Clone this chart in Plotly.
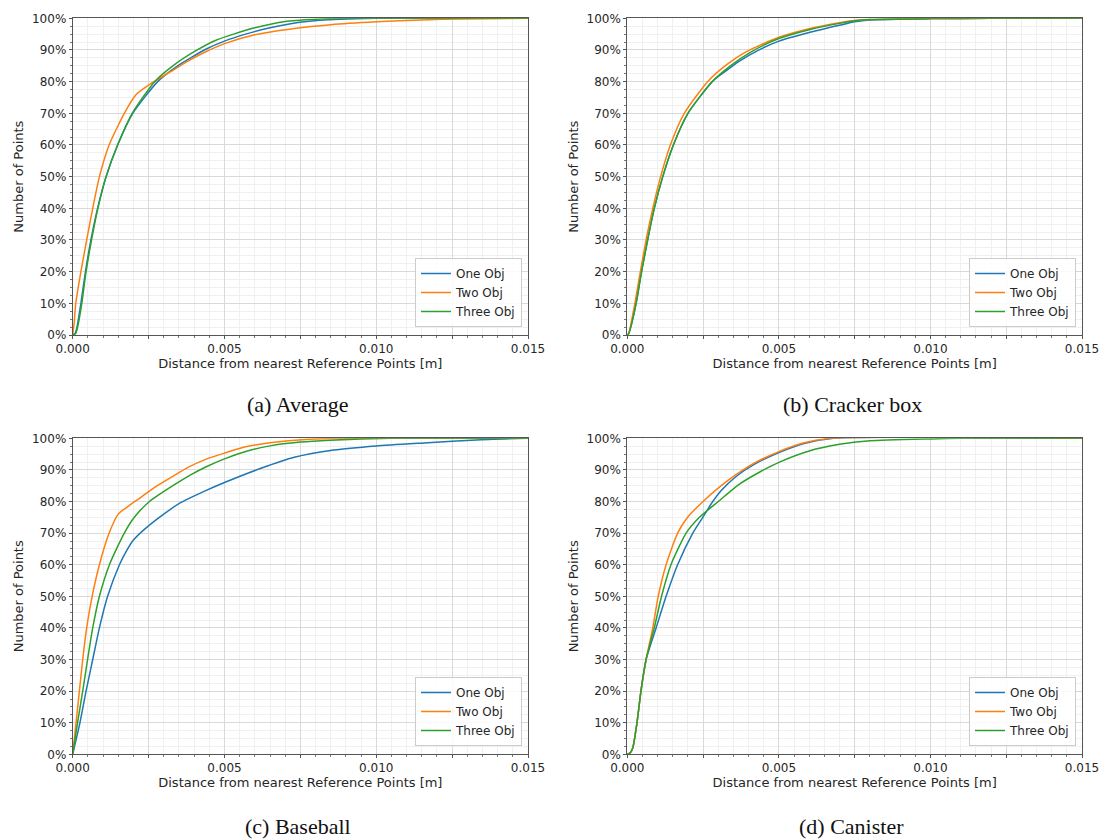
import plotly.graph_objects as go

# ---------------- data (distance in m, cumulative share in %) ----------------
series_names = ["One Obj", "Two Obj", "Three Obj"]
panel_titles = ["(a) Average", "(b) Cracker box", "(c) Baseball", "(d) Canister"]

x_tick_vals = [0, 0.0025, 0.005, 0.0075, 0.01, 0.0125, 0.015]
x_tick_text = ["0.000", "", "0.005", "", "0.010", "", "0.015"]
y_tick_vals = [0, 10, 20, 30, 40, 50, 60, 70, 80, 90, 100]
y_tick_text = ["0%", "10%", "20%", "30%", "40%", "50%", "60%", "70%", "80%", "90%", "100%"]

# (a) Average
a_one_x = [0, 0.00008, 0.00013, 0.00027, 0.00042, 0.0006, 0.00082, 0.0011, 0.00148, 0.00198, 0.0028, 0.00346, 0.0044, 0.005, 0.0057, 0.0065, 0.0077, 0.0088, 0.01, 0.015]
a_one_y = [0, 0.5, 2, 10, 20, 30, 40, 50, 60, 70, 80, 85, 90.3, 92.8, 95, 97, 99, 99.7, 100, 100]
a_two_x = [0, 0.00005, 0.0001, 0.00027, 0.00046, 0.00066, 0.00088, 0.0012, 0.0017, 0.0021, 0.0026, 0.0032, 0.0038, 0.0044, 0.005, 0.006, 0.0073, 0.0085, 0.01, 0.0115, 0.0128, 0.015]
a_two_y = [0, 4, 10, 20, 30, 40, 50, 60, 70, 76, 79.5, 83, 86.5, 89.5, 92, 94.8, 96.8, 98, 98.9, 99.5, 99.8, 100]
a_three_x = [0, 0.0001, 0.00015, 0.0003, 0.00044, 0.00062, 0.00083, 0.0011, 0.00148, 0.00196, 0.0027, 0.0033, 0.0041, 0.0047, 0.0053, 0.006, 0.007, 0.008, 0.009, 0.015]
a_three_y = [0, 0.5, 2, 10, 20, 30, 40, 50, 60, 70, 80, 85, 90, 93, 95, 97, 99, 99.7, 100, 100]

# (b) Cracker box
b_one_x = [0, 0.00005, 0.0001, 0.00029, 0.00047, 0.00067, 0.00089, 0.00117, 0.00152, 0.002, 0.0028, 0.0032, 0.0037, 0.0043, 0.005, 0.006, 0.007, 0.0075, 0.008, 0.01, 0.012, 0.015]
b_one_y = [0, 0.5, 2, 10, 20, 30, 40, 50, 60, 70, 80, 83, 86.5, 89.8, 92.8, 95.5, 97.8, 98.9, 99.5, 99.9, 100, 100]
b_two_x = [0, 0.00005, 0.0001, 0.00025, 0.00043, 0.00062, 0.00084, 0.0011, 0.00142, 0.00188, 0.00265, 0.0033, 0.0039, 0.0044, 0.005, 0.006, 0.007, 0.0075, 0.008, 0.01, 0.012, 0.015]
b_two_y = [0, 0.5, 2.5, 10, 20, 30, 40, 50, 60, 70, 80, 85.5, 89.3, 91.6, 94, 96.7, 98.6, 99.3, 99.6, 99.9, 100, 100]
b_three_x = [0, 0.00005, 0.0001, 0.00029, 0.00047, 0.00067, 0.00089, 0.00117, 0.00152, 0.002, 0.0028, 0.0034, 0.0041, 0.005, 0.006, 0.007, 0.0075, 0.008, 0.01, 0.012, 0.015]
b_three_y = [0, 0.5, 2, 10, 20, 30, 40, 50, 60, 70, 80, 85, 89.5, 93.6, 96.4, 98.4, 99.2, 99.6, 99.9, 100, 100]

# (c) Baseball
c_one_x = [0, 0.00024, 0.00044, 0.00066, 0.00088, 0.00115, 0.00154, 0.00181, 0.002, 0.0024, 0.003, 0.0035, 0.0044, 0.005, 0.0062, 0.0073, 0.0086, 0.01, 0.0117, 0.0133, 0.015]
c_one_y = [0, 10, 20, 30, 40, 50, 60, 65, 67.8, 71.5, 76, 79.3, 83.5, 86, 90.5, 94, 96.3, 97.6, 98.6, 99.5, 100]
c_two_x = [0, 0.00011, 0.00022, 0.00033, 0.00046, 0.00064, 0.00088, 0.0012, 0.0015, 0.0019, 0.0022, 0.0027, 0.0033, 0.0038, 0.0044, 0.005, 0.0057, 0.0065, 0.0078, 0.009, 0.015]
c_two_y = [0, 10, 20, 30, 40, 50, 60, 70, 76, 79, 81, 84.5, 88, 90.8, 93.4, 95.3, 97.3, 98.6, 99.7, 100, 100]
c_three_x = [0, 0.00016, 0.00033, 0.00049, 0.00066, 0.00088, 0.00121, 0.0017, 0.00203, 0.00253, 0.0033, 0.0039, 0.0044, 0.005, 0.0057, 0.0065, 0.0075, 0.0085, 0.0105, 0.015]
c_three_y = [0, 10, 20, 30, 40, 50, 60, 70, 75, 80, 85, 88.5, 91, 93.5, 95.8, 97.6, 98.8, 99.4, 100, 100]

# (d) Canister
d_one_x = [0, 0.0001, 0.00018, 0.00032, 0.00045, 0.00062, 0.00095, 0.00128, 0.00166, 0.00216, 0.00249, 0.00282, 0.0031, 0.0036, 0.0042, 0.005, 0.0058, 0.0068, 0.015]
d_one_y = [0, 0.5, 2, 10, 20, 30, 40, 50, 60, 70, 75, 80, 83.5, 88, 91.8, 95.5, 98.3, 100, 100]
d_two_x = [0, 0.0001, 0.00018, 0.00032, 0.00045, 0.00062, 0.00084, 0.00102, 0.00128, 0.00166, 0.00199, 0.0025, 0.0033, 0.0042, 0.005, 0.0058, 0.0067, 0.015]
d_two_y = [0, 0.5, 2, 10, 20, 30, 40, 50, 60, 70, 75, 80, 86.5, 92.2, 95.8, 98.5, 100, 100]
d_three_x = [0, 0.0001, 0.00018, 0.00032, 0.00045, 0.00062, 0.00089, 0.00113, 0.00144, 0.00194, 0.00238, 0.003, 0.0037, 0.0044, 0.005, 0.006, 0.007, 0.008, 0.01, 0.011, 0.015]
d_three_y = [0, 0.5, 2, 10, 20, 30, 40, 50, 60, 70, 75, 80, 85.5, 89.5, 92.4, 96, 98.1, 99.2, 99.8, 100, 100]

panels = [
    [(a_one_x, a_one_y), (a_two_x, a_two_y), (a_three_x, a_three_y)],
    [(b_one_x, b_one_y), (b_two_x, b_two_y), (b_three_x, b_three_y)],
    [(c_one_x, c_one_y), (c_two_x, c_two_y), (c_three_x, c_three_y)],
    [(d_one_x, d_one_y), (d_two_x, d_two_y), (d_three_x, d_three_y)],
]
colors = ["#1f77b4", "#ff7f0e", "#2ca02c"]

# ---------------- layout geometry (page pixels; body margin removed below) ----------------
W, H = 1101, 840


def px_x(p):
    return p / W


def px_y(p):
    return 1 - p / H


x_doms = [(px_x(72.7), px_x(528)), (px_x(627.3), px_x(1082))]
y_doms = [(px_y(335), px_y(18.3)), (px_y(754.3), px_y(438.3))]
legend_corner = [(522, 327), (1076, 327), (522, 746), (1076, 746)]
caption_pos = [(298, 404), (852, 404), (298, 826), (851, 826)]

fig = go.Figure()
layout = dict(
    width=W, height=H,
    margin=dict(l=0, r=0, t=0, b=0, autoexpand=False),
    paper_bgcolor="white", plot_bgcolor="white",
    font=dict(family="DejaVu Sans", size=12, color="#262626"),
    annotations=[],
)

for i, panel in enumerate(panels):
    row, col = divmod(i, 2)
    n = i + 1
    xa = "x" if n == 1 else f"x{n}"
    ya = "y" if n == 1 else f"y{n}"
    leg = "legend" if n == 1 else f"legend{n}"
    for (sx, sy), name, c in zip(panel, series_names, colors):
        fig.add_trace(go.Scatter(
            x=sx, y=sy, name=name, mode="lines",
            line=dict(color=c, width=1.5, shape="spline", smoothing=0.6),
            xaxis=xa, yaxis=ya, legend=leg, showlegend=True,
        ))
    xd, yd = x_doms[col], y_doms[row]
    xkey = "xaxis" if n == 1 else f"xaxis{n}"
    ykey = "yaxis" if n == 1 else f"yaxis{n}"
    layout[xkey] = dict(
        domain=list(xd), anchor=ya, range=[0, 0.015], automargin=False,
        tickmode="array", tickvals=x_tick_vals, ticktext=x_tick_text,
        ticks="outside", ticklen=2.5, tickcolor="#555",
        showgrid=True, gridcolor="#d9d9d9", gridwidth=1,
        minor=dict(dtick=0.0005, ticks="outside", ticklen=2, tickcolor="#777",
                   showgrid=True, gridcolor="#f0f0f0", gridwidth=1),
        showline=True, linecolor="#555", linewidth=1, mirror=True,
        zeroline=False, tickfont=dict(size=12, color="#262626"),
        title=dict(text="Distance from nearest Reference Points [m]",
                   font=dict(size=13, color="#262626"), standoff=0),
    )
    layout[ykey] = dict(
        domain=list(yd), anchor=xa, range=[0, 100], automargin=False,
        tickmode="array", tickvals=y_tick_vals, ticktext=y_tick_text,
        ticks="outside", ticklen=3, tickcolor="#555",
        showgrid=True, gridcolor="#d9d9d9", gridwidth=1,
        minor=dict(dtick=2.5, ticks="outside", ticklen=2, tickcolor="#777",
                   showgrid=True, gridcolor="#f0f0f0", gridwidth=1),
        showline=True, linecolor="#555", linewidth=1, mirror=True,
        zeroline=False, tickfont=dict(size=12, color="#262626"),
        title=dict(text="Number of Points", font=dict(size=13, color="#262626"), standoff=5),
    )
    lx, ly = legend_corner[i]
    layout[leg] = dict(
        x=px_x(lx), y=px_y(ly),
        xanchor="right", yanchor="bottom",
        bgcolor="rgba(255,255,255,0.85)", bordercolor="#cccccc", borderwidth=1,
        font=dict(size=12, color="#262626"), itemwidth=30,
        tracegroupgap=0,
    )
    cx, cy = caption_pos[i]
    layout["annotations"].append(dict(
        text=panel_titles[i], x=px_x(cx), y=px_y(cy), xref="paper", yref="paper",
        showarrow=False, xanchor="center", yanchor="middle",
        font=dict(family="Liberation Serif", size=22, color="#111"),
    ))

fig.update_layout(**layout)
fig.write_html(
    "out.html",
    config={"displayModeBar": False},
    default_width=f"{W}px", default_height=f"{H}px",
    post_script="document.body.style.margin='0';document.body.style.overflow='hidden';",
)
